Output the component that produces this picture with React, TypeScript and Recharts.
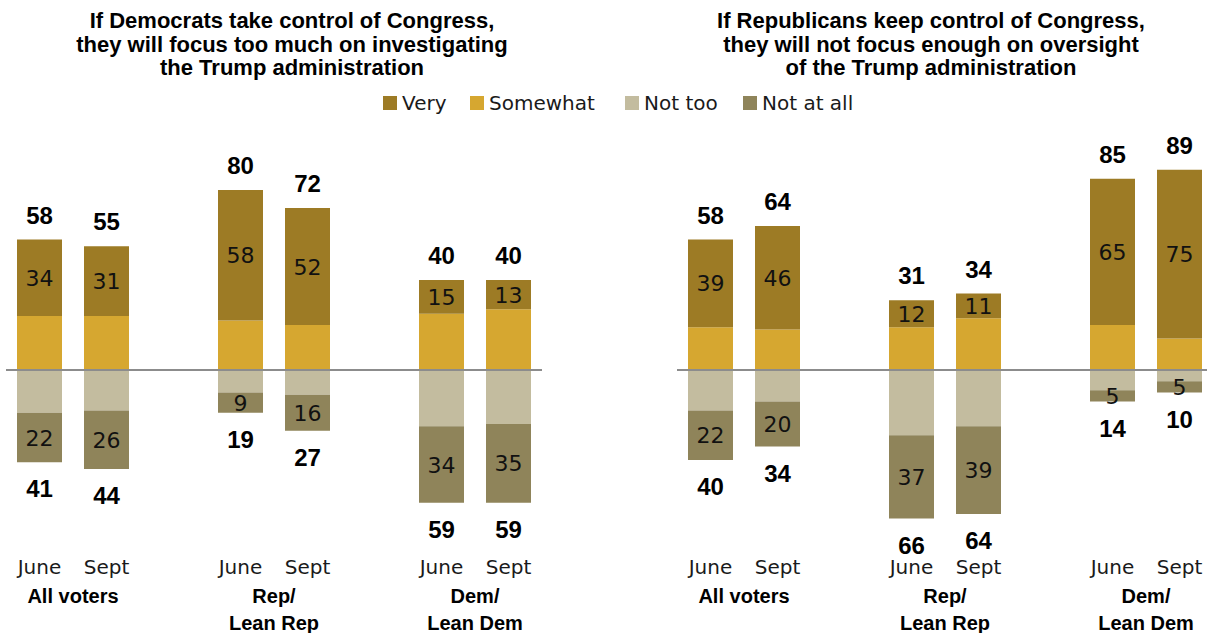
import React from "react";
import { BarChart, Bar, XAxis, YAxis, ReferenceLine, LabelList } from "recharts";

// ---------- data ----------
const groupLabels = [["All voters"], ["Rep/", "Lean Rep"], ["Dem/", "Lean Dem"]];
const periods = ["June", "Sept"];
const seriesNames = ["Very", "Somewhat", "Not too", "Not at all"];

// Left panel: Democrats will focus too much on investigating
const leftTitle = [
  "If Democrats take control of Congress,",
  "they will focus too much on investigating",
  "the Trump administration",
];
const leftVery = [34, 31, 58, 52, 15, 13];
const leftSomewhat = [24, 24, 22, 20, 25, 27];
const leftNotToo = [19, 18, 10, 11, 25, 24];
const leftNotAtAll = [22, 26, 9, 16, 34, 35];
const leftTotalPos = [58, 55, 80, 72, 40, 40];
const leftTotalNeg = [41, 44, 19, 27, 59, 59];

// Right panel: Republicans will not focus enough on oversight
const rightTitle = [
  "If Republicans keep control of Congress,",
  "they will not focus enough on oversight",
  "of the Trump administration",
];
const rightVery = [39, 46, 12, 11, 65, 75];
const rightSomewhat = [19, 18, 19, 23, 20, 14];
const rightNotToo = [18, 14, 29, 25, 9, 5];
const rightNotAtAll = [22, 20, 37, 39, 5, 5];
const rightTotalPos = [58, 64, 31, 34, 85, 89];
const rightTotalNeg = [40, 34, 66, 64, 14, 10];

const COLORS = {
  very: "#9d7b25",
  somewhat: "#d6a730",
  notToo: "#c3bc9f",
  notAtAll: "#8f845a",
};
const legendColors = [COLORS.very, COLORS.somewhat, COLORS.notToo, COLORS.notAtAll];

const NORMAL_FONT = "'DejaVu Sans', sans-serif";
const BOLD_FONT = "'Liberation Sans', Arial, sans-serif";

type Row = {
  key: string;
  period: string;
  group: string[] | null;
  very: number | null;
  somewhat: number | null;
  notToo: number | null;
  notAtAll: number | null;
  totalPos: number | null;
  totalNeg: number | null;
};

function buildRows(
  very: number[],
  somewhat: number[],
  notToo: number[],
  notAtAll: number[],
  totalPos: number[],
  totalNeg: number[]
): Row[] {
  const rows: Row[] = [];
  groupLabels.forEach((g, gi) => {
    if (gi > 0) {
      rows.push({
        key: "spacer" + gi,
        period: "",
        group: null,
        very: null,
        somewhat: null,
        notToo: null,
        notAtAll: null,
        totalPos: null,
        totalNeg: null,
      });
    }
    periods.forEach((p, pi) => {
      const i = gi * 2 + pi;
      rows.push({
        key: g.join(" ") + "-" + p,
        period: p,
        group: pi === 0 ? g : null,
        very: very[i],
        somewhat: somewhat[i],
        notToo: -notToo[i],
        notAtAll: -notAtAll[i],
        totalPos: totalPos[i],
        totalNeg: totalNeg[i],
      });
    });
  });
  return rows;
}

const SLOT = 67;
const TOP_MARGIN = 30;

function Panel({ rows, left }: { rows: Row[]; left: number }) {
  const byKey: Record<string, Row> = {};
  rows.forEach((r) => (byKey[r.key] = r));

  const renderTick = (props: any) => {
    const { x, y, payload } = props;
    const row = byKey[payload.value];
    if (!row || !row.period) return <g />;
    return (
      <g>
        <text
          x={x}
          y={y + 22}
          textAnchor="middle"
          fontFamily={NORMAL_FONT}
          fontSize={20}
          fill="#1a1a1a"
        >
          {row.period}
        </text>
        {row.group &&
          row.group.map((line, li) => (
            <text
              key={li}
              x={x + SLOT / 2}
              y={y + 51 + li * 27}
              textAnchor="middle"
              fontFamily={BOLD_FONT}
              fontWeight="bold"
              fontSize={20}
              fill="#000"
            >
              {line}
            </text>
          ))}
      </g>
    );
  };

  const inner = (props: any) => {
    const { x, y, width, height, value } = props;
    if (value == null) return null;
    const cy = y + height / 2;
    return (
      <text
        x={x + width / 2}
        y={cy}
        dy={8}
        textAnchor="middle"
        fontFamily={NORMAL_FONT}
        fontSize={22}
        fill="#111"
      >
        {Math.abs(value)}
      </text>
    );
  };

  const topTotal = (props: any) => {
    const { x, y, width, height, value } = props;
    if (value == null) return null;
    const top = Math.min(y, y + height);
    return (
      <text
        x={x + width / 2}
        y={top - 16}
        textAnchor="middle"
        fontFamily={BOLD_FONT}
        fontWeight="bold"
        fontSize={24}
        fill="#000"
      >
        {value}
      </text>
    );
  };

  const bottomTotal = (props: any) => {
    const { x, y, width, height, value } = props;
    if (value == null) return null;
    const bottom = Math.max(y, y + height);
    return (
      <text
        x={x + width / 2}
        y={bottom + 35}
        textAnchor="middle"
        fontFamily={BOLD_FONT}
        fontWeight="bold"
        fontSize={24}
        fill="#000"
      >
        {value}
      </text>
    );
  };

  return (
    <div style={{ position: "absolute", left, top: 145 - TOP_MARGIN }}>
      <BarChart
        width={SLOT * 8}
        height={495 + TOP_MARGIN}
        data={rows}
        stackOffset="sign"
        margin={{ top: TOP_MARGIN, right: 0, bottom: 0, left: 0 }}
        barSize={45}
      >
        <XAxis
          dataKey="key"
          height={90}
          axisLine={false}
          tickLine={false}
          tickSize={0}
          interval={0}
          tick={renderTick}
        />
        <YAxis hide domain={[-80, 100]} type="number" allowDataOverflow />
        <Bar dataKey="somewhat" stackId="s" fill={COLORS.somewhat} isAnimationActive={false} />
        <Bar dataKey="very" stackId="s" fill={COLORS.very} isAnimationActive={false}>
          <LabelList dataKey="very" content={inner} />
          <LabelList dataKey="totalPos" content={topTotal} />
        </Bar>
        <Bar dataKey="notToo" stackId="s" fill={COLORS.notToo} isAnimationActive={false} />
        <Bar dataKey="notAtAll" stackId="s" fill={COLORS.notAtAll} isAnimationActive={false}>
          <LabelList dataKey="notAtAll" content={inner} />
          <LabelList dataKey="totalNeg" content={bottomTotal} />
        </Bar>
        <ReferenceLine y={0} stroke="#8c8c8c" strokeWidth={2} />
      </BarChart>
    </div>
  );
}

function Title({ lines, center }: { lines: string[]; center: number }) {
  return (
    <div
      style={{
        position: "absolute",
        left: center - 300,
        width: 600,
        top: 9,
        textAlign: "center",
        fontFamily: BOLD_FONT,
        fontWeight: "bold",
        fontSize: 22,
        lineHeight: "23.5px",
        color: "#000",
      }}
    >
      {lines.map((l, i) => (
        <div key={i}>{l}</div>
      ))}
    </div>
  );
}

const legendPos = [383, 470, 625, 743];

function Legend() {
  return (
    <>
      {seriesNames.map((name, i) => (
        <div
          key={name}
          style={{
            position: "absolute",
            left: legendPos[i],
            top: 91,
            height: 24,
            display: "flex",
            alignItems: "center",
            fontFamily: NORMAL_FONT,
            fontSize: 20,
            color: "#1a1a1a",
            whiteSpace: "nowrap",
          }}
        >
          <span
            style={{
              display: "inline-block",
              width: 14,
              height: 14,
              background: legendColors[i],
              marginRight: 5,
            }}
          />
          {name}
        </div>
      ))}
    </>
  );
}

export default function App() {
  const leftRows = buildRows(leftVery, leftSomewhat, leftNotToo, leftNotAtAll, leftTotalPos, leftTotalNeg);
  const rightRows = buildRows(rightVery, rightSomewhat, rightNotToo, rightNotAtAll, rightTotalPos, rightTotalNeg);
  return (
    <div
      style={{
        position: "absolute",
        left: 0,
        top: 0,
        width: 1207,
        height: 633,
        overflow: "hidden",
        background: "#fff",
      }}
    >
      <Title lines={leftTitle} center={292} />
      <Title lines={rightTitle} center={931} />
      <Legend />
      <Panel rows={leftRows} left={6} />
      <Panel rows={rightRows} left={677} />
    </div>
  );
}
